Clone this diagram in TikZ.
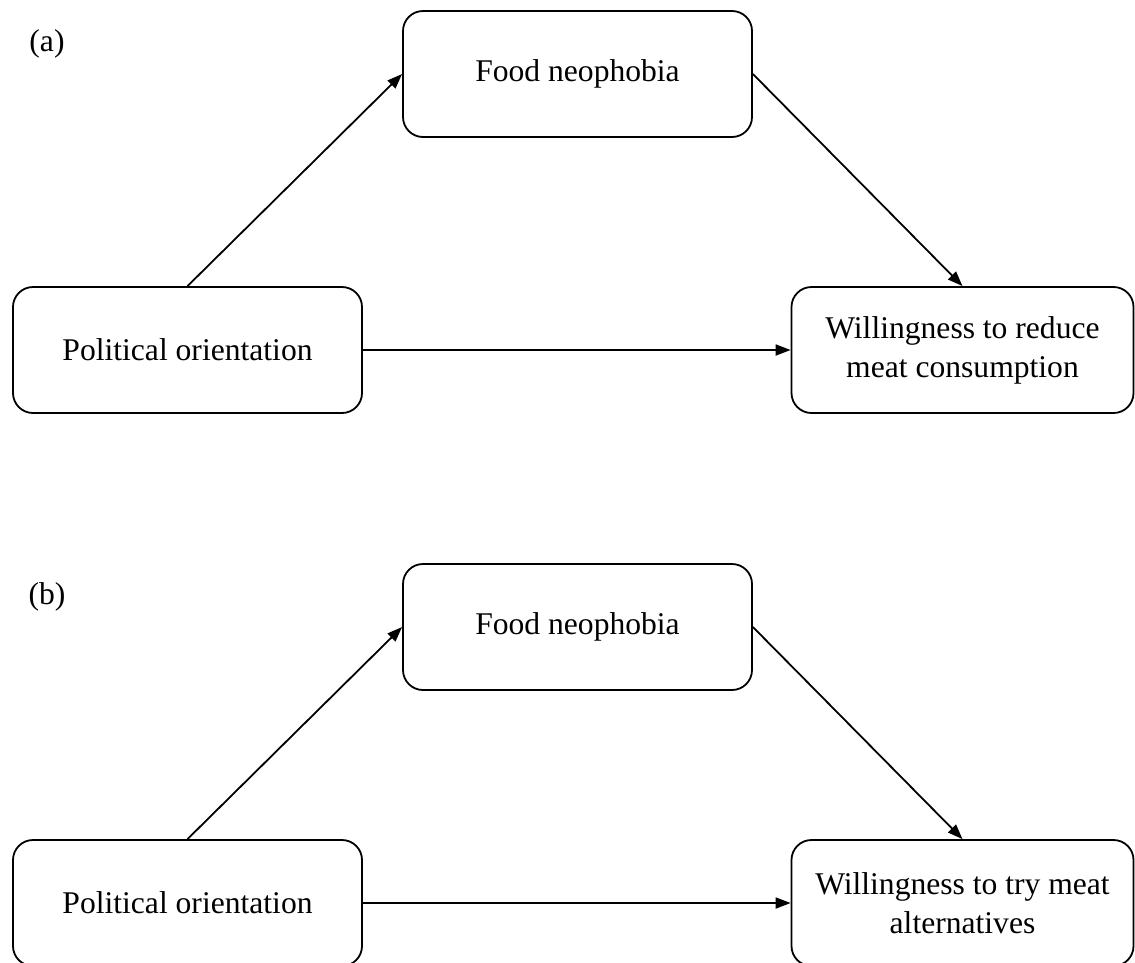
\documentclass[tikz,border=0pt]{standalone}
\usepackage{fontspec}
\setmainfont{Liberation Serif}
\usetikzlibrary{arrows.meta}
\begin{document}
\begin{tikzpicture}[x=1pt,y=-1pt,
  box/.style={draw=black, line width=1.8pt, rounded corners=20pt, minimum height=126pt, inner sep=0pt, align=center, font=\fontsize{31.6}{39}\selectfont},
  conn/.style={draw=black, line width=1.8pt, -{Triangle[length=15pt,width=11pt]}},
  lbl/.style={inner sep=0pt, font=\fontsize{31.6}{39}\selectfont}]
\useasboundingbox (0,0) rectangle (1135,962);
\clip (0,0) rectangle (1135,962);
% panel (a)
\node[lbl] (la) at (47,44) {(a)};
\node[box, minimum width=349pt] (fna) at (577.5,74) {Food neophobia};
\node[box, minimum width=349pt] (poa) at (187.5,350) {Political orientation};
\node[box, minimum width=342pt] (wa) at (962.5,350) {Willingness to reduce\\meat consumption};
\draw[conn] (poa.north) -- (fna.west);
\draw[conn] (fna.east) -- (wa.north);
\draw[conn] (poa.east) -- (wa.west);
% panel (b)
\node[lbl] (lb) at (47,597) {(b)};
\node[box, minimum width=349pt] (fnb) at (577.5,627) {Food neophobia};
\node[box, minimum width=349pt] (pob) at (187.5,903) {Political orientation};
\node[box, minimum width=342pt] (wb) at (962.5,903) {Willingness to try meat\\alternatives};
\draw[conn] (pob.north) -- (fnb.west);
\draw[conn] (fnb.east) -- (wb.north);
\draw[conn] (pob.east) -- (wb.west);
\end{tikzpicture}
\end{document}
